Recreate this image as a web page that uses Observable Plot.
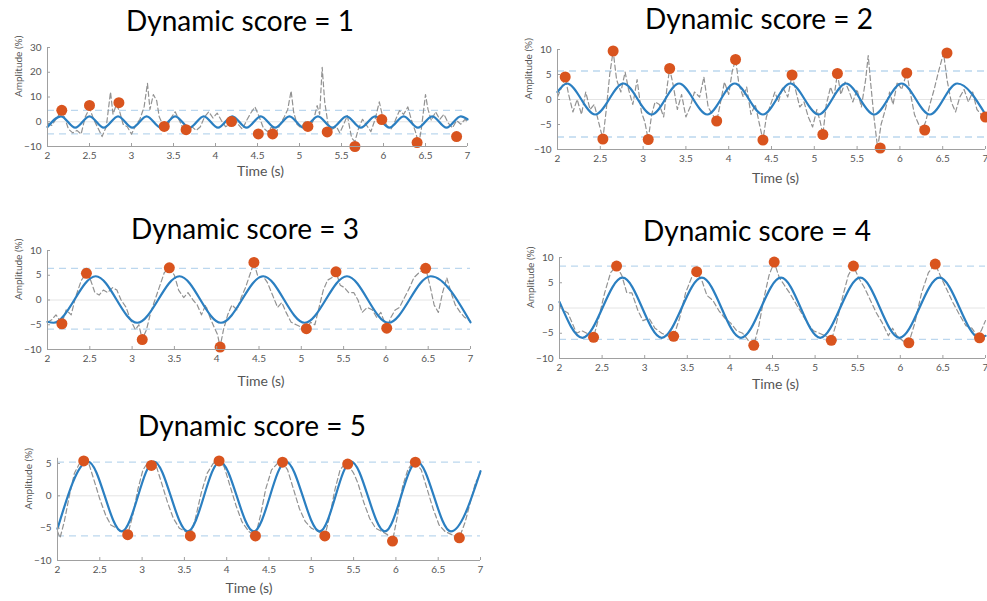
<!DOCTYPE html>
<html><head><meta charset="utf-8">
<script src="https://cdn.jsdelivr.net/npm/d3@7"></script>
<script src="https://cdn.jsdelivr.net/npm/@observablehq/plot@0.6"></script>
<style>
body{margin:0;background:#fff;}
#root{position:relative;width:987px;height:601px;overflow:hidden;background:#fff;}
.title{position:absolute;font-family:Lato,"Open Sans",sans-serif;font-size:28px;color:#000;transform:translate(-50%,-50%);white-space:nowrap;}
.panel{position:absolute;}
</style></head><body><div id="root"></div>
<script>
// ---------- data ----------
const titles = ["Dynamic score = 1","Dynamic score = 2","Dynamic score = 3","Dynamic score = 4","Dynamic score = 5"];
const xTicks = [2,2.5,3,3.5,4,4.5,5,5.5,6,6.5,7];
const yTicks1 = [-10,0,10,20,30];
const yTicks = [-10,-5,0,5,10];
const yTicks5 = [-10,-5,0,5];
const xLabel = "Time (s)";
const yLabel = "Amplitude (%)";

// thresholds (dashed light-blue lines)
const thr1 = [4.6,-4.9], thr2 = [5.7,-7.5], thr3 = [6.4,-5.9], thr4 = [8.3,-6.2], thr5 = [5.2,-6.2];

// fitted sinusoid: extrema [t, value]
const sine1 = [[2.00,-2.1],[2.16,2.2],[2.33,-2.4],[2.50,2.2],[2.67,-2.4],[2.84,2.2],[3.01,-2.4],[3.18,2.2],[3.35,-2.4],[3.52,2.2],[3.69,-2.4],[3.86,2.2],[4.03,-2.4],[4.20,2.2],[4.37,-2.4],[4.54,2.2],[4.71,-2.4],[4.88,2.2],[5.05,-2.4],[5.22,2.2],[5.39,-2.4],[5.56,2.2],[5.73,-2.4],[5.90,2.2],[6.07,-2.4],[6.24,2.2],[6.41,-2.4],[6.58,2.2],[6.75,-2.4],[6.92,2.2],[7.00,1.0]];
const sine2 = [[2.00,1.5],[2.11,3.2],[2.44,-3.0],[2.77,3.2],[3.10,-3.0],[3.42,3.2],[3.75,-3.0],[4.07,3.2],[4.40,-3.0],[4.72,3.2],[5.05,-3.0],[5.37,3.2],[5.70,-3.0],[6.02,3.2],[6.35,-3.0],[6.67,3.2],[7.00,-3.0]];
const sine3 = [[2.00,-4.4],[2.07,-4.6],[2.57,4.8],[3.06,-4.6],[3.56,4.8],[4.05,-4.6],[4.55,4.8],[5.04,-4.6],[5.54,4.8],[6.03,-4.6],[6.53,4.8],[7.00,-4.5]];
const sine4 = [[2.00,1.2],[2.27,-5.9],[2.74,6.0],[3.20,-5.9],[3.67,6.0],[4.13,-5.9],[4.60,6.0],[5.06,-5.9],[5.53,6.0],[5.99,-5.9],[6.46,6.0],[6.93,-5.9],[7.00,-5.5]];
const sine5 = [[2.00,-5.1],[2.36,5.3],[2.76,-5.5],[3.14,5.3],[3.54,-5.5],[3.92,5.3],[4.32,-5.5],[4.70,5.3],[5.10,-5.5],[5.47,5.3],[5.87,-5.5],[6.25,5.3],[6.65,-5.5],[7.00,3.8]];

// detected extrema (orange dots)
const dots1 = [[2.17,4.6],[2.50,6.6],[2.85,7.7],[3.39,-1.9],[3.65,-3.2],[4.19,0.1],[4.51,-4.9],[4.68,-4.9],[5.10,-1.9],[5.33,-4.1],[5.66,-10],[5.98,0.9],[6.40,-8.4],[6.87,-6.0]];
const dots2 = [[2.09,4.5],[2.53,-7.9],[2.65,9.7],[3.06,-8.0],[3.31,6.2],[3.86,-4.3],[4.08,8.0],[4.40,-8.1],[4.74,4.9],[5.10,-7.0],[5.27,5.2],[5.77,-9.7],[6.08,5.3],[6.29,-6.1],[6.55,9.3],[7.00,-3.5]];
const dots3 = [[2.17,-4.8],[2.46,5.4],[3.12,-8.0],[3.44,6.5],[4.04,-9.5],[4.44,7.6],[5.06,-5.8],[5.41,5.7],[6.01,-5.7],[6.47,6.4]];
const dots4 = [[2.40,-5.8],[2.67,8.3],[3.34,-5.6],[3.61,7.2],[4.28,-7.4],[4.52,9.1],[5.19,-6.4],[5.45,8.3],[6.10,-6.9],[6.41,8.7],[6.93,-5.9]];
const dots5 = [[2.31,5.4],[2.83,-6.0],[3.11,4.7],[3.57,-6.2],[3.91,5.4],[4.34,-6.2],[4.66,5.2],[5.16,-6.2],[5.43,4.9],[5.96,-7.0],[6.23,5.2],[6.75,-6.5]];

// raw signal (grey dashed)
const raw1 = [[2.00,-0.5],[2.05,-1.5],[2.10,1.0],[2.15,3.5],[2.20,2.0],[2.25,-3.0],[2.30,-4.5],[2.35,-3.5],[2.40,-5.0],[2.45,2.0],[2.50,5.5],[2.55,1.0],[2.60,-2.5],[2.65,-6.0],[2.70,-2.0],[2.75,12.0],[2.78,3.0],[2.82,7.0],[2.86,4.0],[2.90,-1.0],[2.95,-2.0],[3.00,-5.0],[3.05,-1.5],[3.10,1.0],[3.15,6.0],[3.19,15.5],[3.22,5.0],[3.26,11.0],[3.30,8.5],[3.33,2.0],[3.37,-1.0],[3.42,-2.5],[3.47,1.5],[3.52,4.0],[3.57,0.5],[3.62,-3.0],[3.67,-4.5],[3.72,-2.0],[3.77,-3.5],[3.82,-2.0],[3.87,2.0],[3.92,4.0],[3.97,1.5],[4.02,3.5],[4.07,0.5],[4.12,-2.0],[4.17,-1.0],[4.22,1.5],[4.27,-1.0],[4.32,-3.0],[4.37,0.5],[4.42,3.5],[4.47,6.0],[4.52,2.0],[4.57,-2.5],[4.62,-4.0],[4.67,-2.0],[4.72,-4.5],[4.77,-1.0],[4.82,2.0],[4.86,5.0],[4.90,12.5],[4.93,4.0],[4.97,-1.0],[5.02,-2.5],[5.07,0.5],[5.12,-3.0],[5.17,1.0],[5.21,6.5],[5.24,3.0],[5.27,22.0],[5.30,8.0],[5.34,-1.0],[5.39,-3.0],[5.44,-2.0],[5.48,-4.5],[5.52,-1.5],[5.57,2.5],[5.62,-6.5],[5.66,-8.0],[5.70,-3.0],[5.75,1.0],[5.80,-1.5],[5.85,-4.0],[5.90,1.0],[5.95,8.0],[5.99,2.0],[6.04,-1.5],[6.09,-3.0],[6.14,0.5],[6.19,4.5],[6.24,3.0],[6.29,6.0],[6.33,1.0],[6.38,-4.0],[6.42,-9.0],[6.45,-3.0],[6.50,11.0],[6.53,5.0],[6.57,0.5],[6.62,4.0],[6.67,1.0],[6.72,3.0],[6.77,-0.5],[6.82,-2.5],[6.87,0.5],[6.92,-1.0],[6.97,1.0],[7.00,0.0]];
const raw2 = [[2.00,0.5],[2.05,2.5],[2.09,4.5],[2.13,1.0],[2.18,-2.5],[2.23,0.0],[2.28,-3.0],[2.33,1.5],[2.38,-2.0],[2.43,-1.0],[2.48,-4.5],[2.53,-7.9],[2.57,-2.0],[2.61,5.0],[2.65,9.7],[2.69,4.0],[2.74,1.5],[2.79,5.5],[2.83,2.0],[2.88,-1.0],[2.93,4.0],[2.98,-2.5],[3.02,-4.5],[3.06,-8.0],[3.10,-3.0],[3.14,-0.5],[3.19,-1.0],[3.24,-3.5],[3.28,2.5],[3.31,6.2],[3.35,3.0],[3.40,-2.0],[3.45,1.0],[3.50,-3.5],[3.55,-1.5],[3.60,1.5],[3.66,0.5],[3.71,4.5],[3.76,-1.5],[3.81,-3.0],[3.86,-4.3],[3.90,-1.0],[3.95,3.5],[4.00,1.0],[4.04,5.5],[4.08,8.0],[4.12,3.0],[4.17,0.5],[4.21,2.5],[4.26,-3.0],[4.31,-1.0],[4.36,-5.0],[4.40,-8.1],[4.44,-3.5],[4.49,-1.0],[4.54,1.5],[4.58,-0.5],[4.63,2.5],[4.69,0.5],[4.74,4.9],[4.78,2.0],[4.83,-1.5],[4.88,-0.5],[4.93,-3.5],[4.98,-5.5],[5.03,-2.0],[5.07,-4.5],[5.10,-7.0],[5.14,-1.0],[5.19,2.5],[5.23,0.5],[5.27,5.2],[5.31,1.0],[5.36,3.5],[5.41,1.5],[5.45,-0.5],[5.50,2.0],[5.55,-1.5],[5.60,4.0],[5.63,8.8],[5.66,3.0],[5.70,-4.0],[5.74,-9.7],[5.78,-5.0],[5.83,-2.0],[5.88,1.5],[5.92,-1.0],[5.97,3.5],[6.02,2.0],[6.08,5.3],[6.12,1.5],[6.17,-3.0],[6.22,-5.0],[6.26,-6.1],[6.30,-4.5],[6.35,-1.0],[6.40,2.0],[6.45,5.5],[6.51,9.3],[6.55,4.0],[6.60,-0.5],[6.65,-2.5],[6.70,0.5],[6.75,2.0],[6.80,-0.5],[6.85,1.5],[6.90,-2.0],[6.95,-3.0],[7.00,-3.5]];
const raw3 = [[2.00,-4.5],[2.05,-4.0],[2.10,-3.0],[2.17,-4.8],[2.22,-2.0],[2.28,-3.0],[2.33,0.5],[2.40,4.0],[2.46,5.4],[2.51,4.0],[2.56,1.5],[2.61,1.0],[2.66,2.0],[2.71,1.5],[2.77,2.5],[2.82,2.0],[2.87,0.0],[2.93,-1.5],[2.98,-4.0],[3.04,-6.0],[3.08,-5.0],[3.12,-8.0],[3.17,-6.0],[3.22,-2.5],[3.27,0.0],[3.33,3.0],[3.38,5.5],[3.44,6.5],[3.50,5.0],[3.55,2.0],[3.61,0.5],[3.66,1.5],[3.72,0.0],[3.77,-1.0],[3.82,-3.0],[3.87,-1.0],[3.92,-3.5],[3.97,-5.5],[4.01,-7.0],[4.04,-9.5],[4.08,-6.0],[4.13,-3.0],[4.18,-1.0],[4.24,-2.0],[4.29,0.5],[4.34,2.5],[4.40,5.5],[4.44,7.6],[4.49,4.5],[4.55,4.8],[4.60,3.5],[4.66,1.0],[4.72,-1.5],[4.77,-0.5],[4.82,-2.5],[4.88,-4.5],[4.94,-5.0],[5.00,-5.5],[5.06,-5.8],[5.11,-4.5],[5.16,-5.0],[5.21,-1.5],[5.26,2.0],[5.31,4.0],[5.36,4.5],[5.41,5.7],[5.46,3.0],[5.51,2.5],[5.56,1.5],[5.62,1.5],[5.67,0.0],[5.72,-2.5],[5.78,-1.5],[5.84,-2.0],[5.89,-3.5],[5.94,-2.5],[6.01,-5.7],[6.06,-3.5],[6.11,-2.0],[6.16,-1.5],[6.22,0.5],[6.28,2.5],[6.33,4.5],[6.39,5.5],[6.47,6.4],[6.52,3.0],[6.57,-1.0],[6.62,-2.5],[6.67,1.5],[6.72,4.5],[6.77,1.5],[6.82,-1.0],[6.88,-2.5],[6.93,-3.5],[7.00,-4.3]];
const raw4 = [[2.00,0.5],[2.05,-0.5],[2.10,-1.0],[2.15,-3.0],[2.20,-5.0],[2.26,-4.5],[2.32,-5.0],[2.40,-5.8],[2.46,-2.0],[2.53,3.0],[2.60,7.0],[2.67,8.3],[2.73,6.5],[2.79,3.0],[2.85,3.0],[2.92,-0.5],[2.98,-2.5],[3.05,-2.0],[3.12,-4.0],[3.20,-5.0],[3.27,-5.5],[3.34,-5.6],[3.41,-2.0],[3.48,3.0],[3.55,6.0],[3.61,7.2],[3.67,5.5],[3.73,2.5],[3.80,1.5],[3.87,-0.5],[3.94,-2.0],[4.01,-3.0],[4.08,-4.5],[4.15,-5.0],[4.22,-6.5],[4.28,-7.4],[4.34,-3.5],[4.40,2.0],[4.46,6.5],[4.52,9.1],[4.58,6.0],[4.64,4.5],[4.70,3.0],[4.77,1.0],[4.84,-1.0],[4.91,-3.0],[4.98,-4.5],[5.05,-5.0],[5.12,-5.5],[5.19,-6.4],[5.25,-3.0],[5.32,2.0],[5.39,6.5],[5.45,8.3],[5.51,6.0],[5.58,4.0],[5.65,1.5],[5.72,-1.0],[5.79,-3.0],[5.86,-5.5],[5.91,-4.0],[5.96,-5.5],[6.03,-6.5],[6.10,-6.9],[6.17,-3.0],[6.25,3.0],[6.33,7.0],[6.41,8.7],[6.48,6.0],[6.55,3.5],[6.62,1.0],[6.70,-1.5],[6.77,-3.5],[6.84,-4.0],[6.90,-5.5],[6.95,-4.5],[7.00,-2.5]];
const raw5 = [[2.00,-5.5],[2.03,-6.5],[2.08,-4.0],[2.14,0.0],[2.20,3.5],[2.26,5.0],[2.31,5.4],[2.37,5.0],[2.43,2.5],[2.50,-0.5],[2.57,-3.0],[2.63,-4.5],[2.70,-5.0],[2.76,-5.5],[2.83,-6.0],[2.89,-3.0],[2.95,1.0],[3.01,4.0],[3.06,5.0],[3.11,4.7],[3.17,4.5],[3.23,2.0],[3.30,-1.0],[3.37,-3.5],[3.44,-5.0],[3.51,-5.5],[3.57,-6.2],[3.63,-3.5],[3.70,0.5],[3.77,3.5],[3.84,5.0],[3.91,5.4],[3.97,4.5],[4.04,1.5],[4.11,-1.5],[4.18,-4.0],[4.26,-5.5],[4.34,-6.2],[4.40,-3.0],[4.46,1.0],[4.53,4.0],[4.60,5.0],[4.66,5.2],[4.72,4.0],[4.79,1.0],[4.86,-2.0],[4.93,-4.0],[5.00,-5.0],[5.08,-5.5],[5.16,-6.2],[5.22,-3.0],[5.28,1.0],[5.34,4.0],[5.40,5.0],[5.43,4.9],[5.50,3.5],[5.55,2.0],[5.62,-1.0],[5.69,-3.5],[5.76,-5.0],[5.83,-5.5],[5.90,-6.0],[5.96,-7.0],[6.02,-3.0],[6.08,1.5],[6.14,4.0],[6.19,5.0],[6.23,5.2],[6.30,4.0],[6.37,1.0],[6.44,-2.0],[6.51,-4.5],[6.58,-5.5],[6.66,-6.0],[6.75,-6.5],[6.82,-4.0],[6.88,-1.0],[6.94,2.0],[7.00,3.5]];

// ---------- layout ----------
const layout = [
  {left:0,   top:40,  w:480, h:150, mL:47, mR:13, mT:7,   mB:44, yDomain:[-10,30],  yt:yTicks1, tx:[240,20], xlab:[3,29]},
  {left:500, top:40,  w:487, h:150, mL:57, mR:2,  mT:9,   mB:41, yDomain:[-10,10],  yt:yTicks,  tx:[759,18], xlab:[4,33]},
  {left:0,   top:240, w:480, h:160, mL:47, mR:10, mT:10,  mB:51, yDomain:[-10,10],  yt:yTicks,  tx:[245,228], xlab:[2,36]},
  {left:500, top:250, w:487, h:150, mL:59, mR:2,  mT:7,   mB:42, yDomain:[-10,10],  yt:yTicks,  tx:[757,230], xlab:[3,30]},
  {left:0,   top:450, w:490, h:151, mL:57, mR:10, mT:7.8, mB:41, yDomain:[-10,5.8], yt:yTicks5, tx:[252,425], xlab:[-20,32]}
];
const series = [
  {raw:raw1, sine:sine1, dots:dots1, thr:thr1},
  {raw:raw2, sine:sine2, dots:dots2, thr:thr2},
  {raw:raw3, sine:sine3, dots:dots3, thr:thr3},
  {raw:raw4, sine:sine4, dots:dots4, thr:thr4},
  {raw:raw5, sine:sine5, dots:dots5, thr:thr5}
];

const root = document.getElementById("root");
const X = d => d[0], Y = d => d[1];
layout.forEach((L, i) => {
  const s = series[i];
  const chart = Plot.plot({
    width: L.w, height: L.h,
    marginLeft: L.mL, marginRight: L.mR, marginTop: L.mT, marginBottom: L.mB,
    style: {fontFamily: "Lato, 'Open Sans', sans-serif", fontSize: "10px", color: "#555", background: "transparent", overflow: "visible"},
    x: {domain: [2, 7]},
    y: {domain: L.yDomain},
    marks: [
      Plot.ruleY([0], {stroke: "#e4e4e4", strokeWidth: 1}),
      Plot.ruleY(s.thr, {stroke: "#bcd7ee", strokeWidth: 1.3, strokeDasharray: "7,5"}),
      Plot.line(s.raw, {x: X, y: Y, stroke: "#929292", strokeWidth: 1.2, strokeDasharray: "5,3"}),
      Plot.line(s.sine, {x: X, y: Y, curve: "monotone-x", stroke: "#2b7fc1", strokeWidth: 2.2}),
      Plot.dot(s.dots, {x: X, y: Y, r: 5.5, fill: "#d9541e", stroke: "none"}),
      Plot.ruleX([2], {stroke: "#a0a0a0"}),
      Plot.ruleY([L.yDomain[0]], {stroke: "#a0a0a0"}),
      Plot.axisX({ticks: xTicks, tickFormat: d => String(d), tickSize: -3, tickPadding: 8, stroke: "#a0a0a0", fill: "#555", label: null}),
      Plot.axisY({ticks: L.yt, tickSize: -3, tickPadding: 9, stroke: "#a0a0a0", fill: "#555", label: null}),
      Plot.text([xLabel], {text: d => d, frameAnchor: "bottom", dx: L.xlab[0], dy: L.xlab[1], fontSize: 14, fill: "#555"}),
      Plot.text([yLabel], {text: d => d, frameAnchor: "left", rotate: -90, dx: -29, fontSize: 10, fill: "#555"})
    ]
  });
  chart.classList.add("panel");
  chart.style.left = L.left + "px";
  chart.style.top = L.top + "px";
  root.appendChild(chart);
  const t = document.createElement("div");
  t.className = "title";
  t.textContent = titles[i];
  t.style.left = L.tx[0] + "px";
  t.style.top = L.tx[1] + "px";
  root.appendChild(t);
});
</script></body></html>
